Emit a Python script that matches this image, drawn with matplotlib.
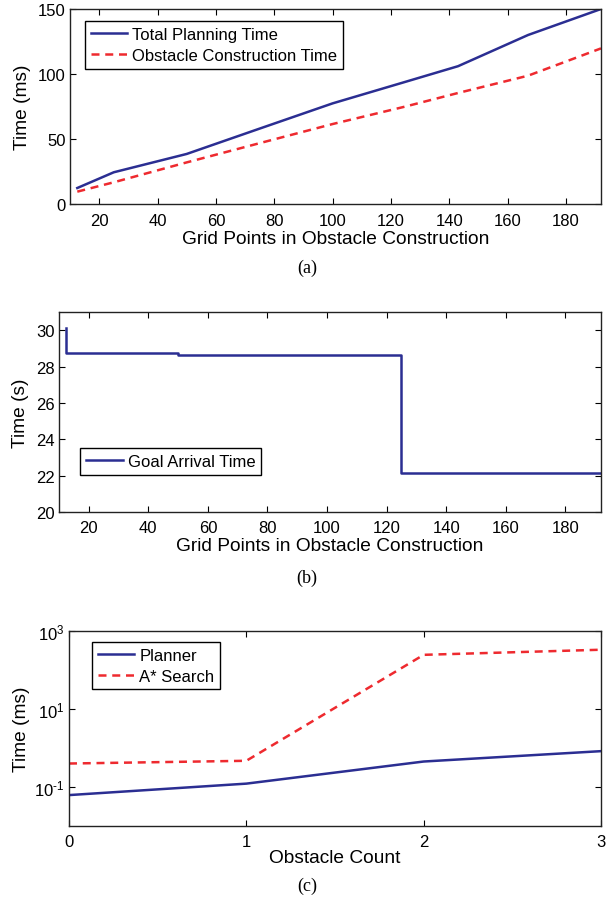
import numpy as np
import matplotlib
matplotlib.use('Agg')
from matplotlib import pyplot as plt
from matplotlib.ticker import NullLocator

#======Data======
# (a) planning time vs grid points
grid_pts = [12.5, 25, 50, 75, 100, 125, 143, 167, 192]
total_time = [12.3, 24.4, 38.5, 58.0, 77.4, 94.0, 106.0, 130.0, 150.0]
obstacle_time = [9.5, 16.7, 32.0, 46.8, 61.5, 75.0, 85.4, 98.7, 119.7]

# (b) goal arrival time vs grid points (stairs)
arrival_time = [30.1, 28.75, 28.75, 28.64, 28.64, 28.64, 22.17, 22.17, 22.17]

# (c) timing vs obstacle count
obstacle_count = [0, 1, 2, 3]
planner_time = [0.062, 0.122, 0.45, 0.83]
astar_time = [0.40, 0.47, 245.0, 331.0]
log_ticks = [1e-1, 1e1, 1e3]
log_labels = [r'$\mathregular{10^{\text{-}1}}$', r'$\mathregular{10^{1}}$', r'$\mathregular{10^{3}}$']
#================

BLUE = '#2b2e92'
RED = '#ee2a2f'

plt.rcParams['font.family'] = ['Liberation Sans', 'DejaVu Sans']
plt.rcParams['mathtext.fontset'] = 'custom'
plt.rcParams['mathtext.rm'] = 'Liberation Sans'
plt.rcParams['xtick.direction'] = 'in'
plt.rcParams['ytick.direction'] = 'in'
plt.rcParams['xtick.top'] = True
plt.rcParams['ytick.right'] = True
plt.rcParams['axes.linewidth'] = 1.0

TICK_FS = 12
LABEL_FS = 13.8
LEG_FS = 12

W, H = 608, 903
fig = plt.figure(figsize=(W / 100, H / 100), dpi=100)


def box(l, t, r, b):
    return [l / W, 1 - b / H, (r - l) / W, (b - t) / H]


def style(ax):
    ax.tick_params(labelsize=TICK_FS, length=4, width=0.8, pad=3)
    for s in ax.spines.values():
        s.set_color('#222222')


def legend(ax, **kw):
    leg = ax.legend(fontsize=LEG_FS, fancybox=False, edgecolor='black',
                    framealpha=1, handlelength=2.2, borderpad=0.35, labelspacing=0.35,
                    handletextpad=0.3, borderaxespad=0, **kw)
    leg.get_frame().set_linewidth(1.0)
    return leg


# ---- (a) ----
axA = fig.add_axes(box(70, 10, 601, 205))
axA.plot(grid_pts, total_time, color=BLUE, lw=1.8, label='Total Planning Time')
axA.plot(grid_pts, obstacle_time, color=RED, lw=1.8, ls=(0, (3.2, 2.3)),
         label='Obstacle Construction Time')
axA.set_xlim(10, 192)
axA.set_ylim(0, 150)
axA.set_xticks(np.arange(20, 181, 20))
axA.set_yticks([0, 50, 100, 150])
axA.set_xlabel('Grid Points in Obstacle Construction', fontsize=LABEL_FS, labelpad=1.5)
axA.set_ylabel('Time (ms)', fontsize=LABEL_FS, labelpad=5)
style(axA)
axA.tick_params(axis='x', pad=6.5)
legend(axA, loc='upper left', bbox_to_anchor=(0.028, 0.938))

# ---- (b) ----
axB = fig.add_axes(box(59, 313, 601, 513))
axB.step(grid_pts, arrival_time, where='pre', color=BLUE, lw=1.8, label='Goal Arrival Time')
axB.set_xlim(10, 192)
axB.set_ylim(20, 31)
axB.set_xticks(np.arange(20, 181, 20))
axB.set_yticks(np.arange(20, 31, 2))
axB.set_xlabel('Grid Points in Obstacle Construction', fontsize=LABEL_FS, labelpad=1.5)
axB.set_ylabel('Time (s)', fontsize=LABEL_FS, labelpad=5)
style(axB)
axB.tick_params(axis='x', pad=6)
legend(axB, loc='lower left', bbox_to_anchor=(0.039, 0.185))

# ---- (c) ----
axC = fig.add_axes(box(69, 632, 601, 827))
axC.semilogy(obstacle_count, planner_time, color=BLUE, lw=1.8, label='Planner')
axC.semilogy(obstacle_count, astar_time, color=RED, lw=1.8, ls=(0, (3.2, 2.3)), label='A* Search')
axC.set_xlim(0, 3)
axC.set_ylim(1e-2, 1e3)
axC.set_xticks(obstacle_count)
axC.set_yticks(log_ticks)
axC.set_yticklabels(log_labels)
axC.yaxis.set_minor_locator(NullLocator())
axC.set_xlabel('Obstacle Count', fontsize=LABEL_FS, labelpad=0)
axC.set_ylabel('Time (ms)', fontsize=LABEL_FS, labelpad=3)
style(axC)
axC.tick_params(axis='x', pad=6)
legend(axC, loc='upper left', bbox_to_anchor=(0.043, 0.944))

# captions
for lbl, y in [('(a)', 268), ('(b)', 578), ('(c)', 886)]:
    fig.text(307 / W, 1 - y / H, lbl, ha='center', va='center',
             fontsize=13, family=['Liberation Serif', 'DejaVu Serif'])

fig.savefig('out.png', dpi=100)
